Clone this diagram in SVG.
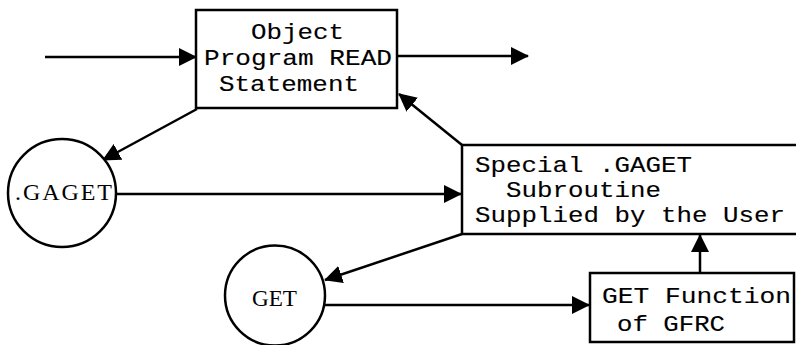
<svg xmlns="http://www.w3.org/2000/svg" width="796" height="345" viewBox="0 0 796 345">
<style>
.box{fill:#fff;stroke:#000;stroke-width:2.5}
.node{fill:#fff;stroke:#000;stroke-width:2.5}
.mono{font-family:"Liberation Mono","Courier New",monospace;font-size:22px;fill:#000;stroke:#000;stroke-width:0.12}
.serif{font-family:"Liberation Serif","Times New Roman",serif;font-size:24px;fill:#000}
.edge{fill:none;stroke:#000;stroke-width:2.5;marker-end:url(#arr)}
</style>
<defs>
<marker id="arr" markerUnits="userSpaceOnUse" markerWidth="18" markerHeight="18" refX="17" refY="9" orient="auto" viewBox="0 0 18 18">
<path d="M0,0 L18,9 L0,18 z" fill="#000"/>
</marker>
</defs>
<rect width="796" height="345" fill="#fff"/>
<g id="connectors">
<line class="edge" x1="45" y1="57" x2="196" y2="57"/>
<line class="edge" x1="397" y1="56" x2="528" y2="56"/>
<line class="edge" x1="197" y1="109" x2="103" y2="160"/>
<line class="edge" x1="462" y1="145" x2="399" y2="94"/>
<line class="edge" x1="117" y1="194" x2="461" y2="194"/>
<line class="edge" x1="462" y1="234" x2="325" y2="280"/>
<line class="edge" x1="325" y1="305" x2="589" y2="305"/>
<line class="edge" x1="700" y1="273" x2="700" y2="235"/>
</g>
<g id="object-program">
<rect class="box" x="196" y="10" width="201" height="98"/>
<text class="mono" x="251" y="39" textLength="93" lengthAdjust="spacingAndGlyphs">Object</text>
<text class="mono" x="204" y="65" textLength="188" lengthAdjust="spacingAndGlyphs">Program READ</text>
<text class="mono" x="219" y="91" textLength="140" lengthAdjust="spacingAndGlyphs">Statement</text>
</g>
<g id="special-gaget">
<path class="box" d="M800,145 H462 V234 H800"/>
<text class="mono" x="475" y="172" textLength="217" lengthAdjust="spacingAndGlyphs">Special .GAGET</text>
<text class="mono" x="506" y="197" textLength="155" lengthAdjust="spacingAndGlyphs">Subroutine</text>
<text class="mono" x="475" y="222" textLength="310" lengthAdjust="spacingAndGlyphs">Supplied by the User</text>
</g>
<g id="gaget">
<circle class="node" cx="62" cy="193" r="54"/>
<text class="serif" x="15" y="200" textLength="97" lengthAdjust="spacing">.GAGET</text>
</g>
<g id="get">
<circle class="node" cx="275" cy="295.5" r="50"/>
<text class="serif" x="252" y="306" textLength="45" lengthAdjust="spacingAndGlyphs">GET</text>
</g>
<g id="gfrc">
<rect class="box" x="590" y="273" width="204" height="69"/>
<text class="mono" x="602" y="303" textLength="189" lengthAdjust="spacingAndGlyphs">GET Function</text>
<text class="mono" x="617" y="331" textLength="108" lengthAdjust="spacingAndGlyphs">of GFRC</text>
</g>
</svg>
